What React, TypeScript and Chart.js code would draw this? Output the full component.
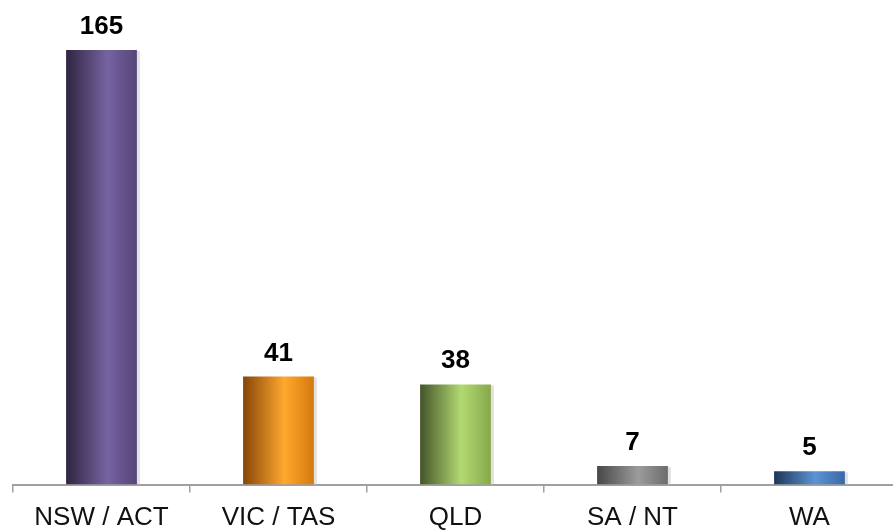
import React, { useEffect, useRef } from "react";
import { Chart, registerables } from "chart.js";

Chart.register(...registerables);

const categories = ["NSW / ACT", "VIC / TAS", "QLD", "SA / NT", "WA"];
const values = [165, 41, 38, 7, 5];
// left shade, highlight, right shade for each cylinder-style bar
const barShades = [
  ["#2f2540", "#7663a1", "#564479"],
  ["#864508", "#ffa82e", "#d47a0e"],
  ["#44552a", "#b2d972", "#86a84a"],
  ["#474747", "#9c9c9c", "#6c6c6c"],
  ["#1c3658", "#5d93d4", "#3968a6"],
];

const FONT = "'Liberation Sans', Arial, sans-serif";

const valueLabels = {
  id: "valueLabels",
  afterDatasetsDraw(chart: any) {
    const ctx = chart.ctx;
    const meta = chart.getDatasetMeta(0);
    ctx.save();
    ctx.font = `bold 26px ${FONT}`;
    ctx.fillStyle = "#000";
    ctx.textAlign = "center";
    ctx.textBaseline = "alphabetic";
    meta.data.forEach((bar: any, i: number) => {
      ctx.fillText(String(values[i]), bar.x, bar.y - 16);
    });
    ctx.restore();
  },
};

// soft light strip on the right side of each bar
const barShadow = {
  id: "barShadow",
  beforeDatasetsDraw(chart: any) {
    const ctx = chart.ctx;
    const meta = chart.getDatasetMeta(0);
    ctx.save();
    ctx.fillStyle = "rgba(200,200,200,0.55)";
    meta.data.forEach((bar: any) => {
      const half = bar.width / 2;
      ctx.fillRect(bar.x + half, bar.y + 1, 3, bar.base - bar.y - 1);
    });
    ctx.restore();
  },
};

export default function App() {
  const ref = useRef<HTMLCanvasElement>(null);

  useEffect(() => {
    if (!ref.current) return;
    const chart = new Chart(ref.current, {
      type: "bar",
      data: {
        labels: categories,
        datasets: [
          {
            data: values,
            categoryPercentage: 1,
            barPercentage: 0.4,
            borderWidth: 0,
            backgroundColor: (c: any) => {
              const ch = c.chart;
              const shades = barShades[c.dataIndex % barShades.length];
              if (!ch.chartArea || !ch.scales.x) return shades[1];
              const x = ch.scales.x.getPixelForValue(c.dataIndex);
              const w = (ch.chartArea.width / categories.length) * 0.4;
              const g = ch.ctx.createLinearGradient(x - w / 2, 0, x + w / 2, 0);
              g.addColorStop(0, shades[0]);
              g.addColorStop(0.58, shades[1]);
              g.addColorStop(1, shades[2]);
              return g;
            },
          },
        ],
      },
      options: {
        responsive: false,
        animation: false,
        layout: { padding: { left: 13, right: 2, top: 0, bottom: 0 } },
        plugins: {
          legend: { display: false },
          tooltip: { enabled: false },
        },
        scales: {
          x: {
            grid: {
              display: true,
              offset: true,
              drawOnChartArea: false,
              drawTicks: true,
              tickLength: 8,
              color: "#a0a0a0",
              lineWidth: 1.5,
            },
            border: { display: true, color: "#a0a0a0", width: 2 },
            ticks: {
              color: "#111",
              padding: 10,
              font: { family: FONT, size: 26 },
              maxRotation: 0,
            },
            afterFit: (scale: any) => {
              scale.height = 45.5;
            },
          },
          y: {
            display: false,
            min: 0,
            max: 184,
          },
        },
      },
      plugins: [barShadow, valueLabels],
    });
    return () => chart.destroy();
  }, []);

  return (
    <div
      style={{
        position: "fixed",
        left: 0,
        top: 0,
        width: 893,
        height: 530,
        overflow: "hidden",
        background: "#fff",
      }}
    >
      <canvas ref={ref} width={900} height={530} style={{ display: "block" }} />
    </div>
  );
}
